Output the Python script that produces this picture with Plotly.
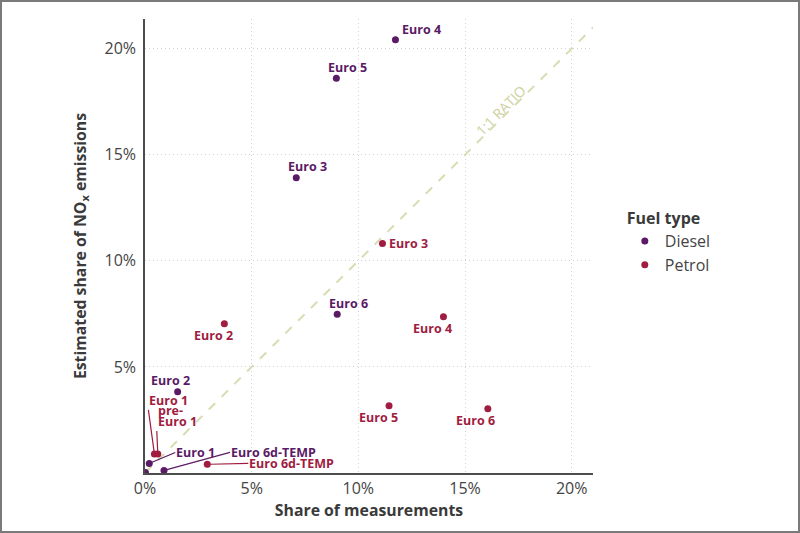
import plotly.graph_objects as go

# Data (percent)
diesel_labels = ['Euro 4', 'Euro 5', 'Euro 3', 'Euro 6', 'Euro 2', 'Euro 1', 'Euro 6d-TEMP', '']
diesel_x = [11.74, 8.97, 7.09, 9.01, 1.53, 0.20, 0.89, 0.02]
diesel_y = [20.42, 18.61, 13.92, 7.48, 3.83, 0.45, 0.12, 0.02]

petrol_labels = ['Euro 3', 'Euro 2', 'Euro 4', 'Euro 5', 'Euro 6', 'Euro 1', 'pre-<br>Euro 1', 'Euro 6d-TEMP']
petrol_x = [11.13, 3.72, 13.99, 11.44, 16.07, 0.44, 0.60, 2.92]
petrol_y = [10.82, 7.03, 7.37, 3.17, 3.03, 0.90, 0.90, 0.41]

tick_vals = [0, 5, 10, 15, 20]
tick_text = ['0%', '5%', '10%', '15%', '20%']
ratio_max = 21

DIESEL = '#5b1a66'
PETROL = '#a01c40'
FONT = 'Open Sans'
LABEL_SIZE = 12.5
LINE_GAP = 10.7  # tight line spacing for wrapped labels

# label placement: (xshift, yshift) for plain labels, or (ax, ay, xanchor, yanchor) for leader lines
plain_pos = {
    ('Diesel', 'Euro 4'): (26, 10),
    ('Diesel', 'Euro 5'): (11, 11),
    ('Diesel', 'Euro 3'): (11, 11),
    ('Diesel', 'Euro 6'): (11, 11),
    ('Diesel', 'Euro 2'): (-7, 11),
    ('Petrol', 'Euro 3'): (26, 0),
    ('Petrol', 'Euro 2'): (-11, -12),
    ('Petrol', 'Euro 4'): (-11, -12),
    ('Petrol', 'Euro 5'): (-11, -12),
    ('Petrol', 'Euro 6'): (-12, -12),
}
leader_pos = {
    ('Diesel', 'Euro 1'): (26, -11, 'left', 'middle'),
    ('Diesel', 'Euro 6d-TEMP'): (66, -18, 'left', 'middle'),
    ('Petrol', 'Euro 1'): (-6, -44, 'left', 'bottom'),
    ('Petrol', 'pre-<br>Euro 1'): (-1, -23, 'left', 'bottom'),
    ('Petrol', 'Euro 6d-TEMP'): (41, -1, 'left', 'middle'),
}

fig = go.Figure()

# 1:1 ratio line
fig.add_trace(go.Scatter(
    x=[0, ratio_max], y=[0, ratio_max], mode='lines',
    line=dict(color='#d9dcb2', width=2, dash='dash'),
    showlegend=False, hoverinfo='skip'
))

for name, xs, ys, color in [('Diesel', diesel_x, diesel_y, DIESEL),
                            ('Petrol', petrol_x, petrol_y, PETROL)]:
    fig.add_trace(go.Scatter(
        x=xs, y=ys, mode='markers', name=name,
        marker=dict(color=color, size=7)
    ))

annotations = []
for name, xs, ys, labels, color in [('Diesel', diesel_x, diesel_y, diesel_labels, DIESEL),
                                    ('Petrol', petrol_x, petrol_y, petrol_labels, PETROL)]:
    for x, y, lab in zip(xs, ys, labels):
        if not lab:
            continue
        key = (name, lab)
        font = dict(family=FONT, size=LABEL_SIZE, color=color, weight='bold')
        if key in leader_pos:
            ax, ay, xa, ya = leader_pos[key]
            lines = lab.split('<br>')
            # last line carries the leader line, earlier lines stacked above it
            annotations.append(dict(
                x=x, y=y, text=lines[-1], showarrow=True, ax=ax, ay=ay,
                xanchor=xa, yanchor=ya, align='left', arrowhead=0,
                arrowwidth=1.2, arrowcolor=color, standoff=3,
                font=font, borderpad=0
            ))
            for i, part in enumerate(reversed(lines[:-1]), start=1):
                annotations.append(dict(
                    x=x, y=y, text=part, showarrow=False,
                    xanchor=xa, yanchor=ya, borderpad=0,
                    xshift=ax, yshift=-ay + i * LINE_GAP, font=font
                ))
        else:
            xs_, ys_ = plain_pos[key]
            annotations.append(dict(
                x=x, y=y, text=lab, showarrow=False,
                xshift=xs_, yshift=ys_, font=font
            ))

annotations.append(dict(
    x=16.9, y=16.9, text='1:1 RATIO', showarrow=False, textangle=-45,
    xshift=-5, yshift=4, font=dict(family=FONT, size=14, color='#cdd1a0')
))

W, H = 800, 533
ml, mr, mt, mb = 145, 207, 19, 60
pw, ph = W - ml - mr, H - mt - mb

fig.update_layout(
    width=W, height=H,
    margin=dict(l=ml, r=mr, t=mt, b=mb),
    paper_bgcolor='white', plot_bgcolor='white',
    font=dict(family=FONT, color='#444'),
    annotations=annotations,
    legend=dict(
        title=dict(text='<b>Fuel type</b>', font=dict(size=16, color='#3a3a3a')),
        x=1.071, y=0.594, xanchor='left', yanchor='top',
        font=dict(size=16, color='#444')
    ),
    shapes=[dict(
        type='rect', xref='paper', yref='paper',
        x0=-(ml - 1) / pw, x1=1 + (mr - 1) / pw,
        y0=-(mb - 1) / ph, y1=1 + (mt - 1) / ph,
        line=dict(color='#7a7a7a', width=2), layer='above'
    )],
)

fig.update_xaxes(
    range=[0, 21], tickvals=tick_vals, ticktext=tick_text,
    showgrid=True, gridcolor='#d2d2d2', griddash='1px,3px', gridwidth=1,
    showline=True, linecolor='#4d4d4d', linewidth=1.5, zeroline=False,
    ticks='', tickfont=dict(size=16, color='#444'),
    title=dict(text='<b>Share of measurements</b>', font=dict(size=15.8, color='#3a3a3a'), standoff=4)
)
fig.update_yaxes(
    range=[0, 21.4], tickvals=tick_vals[1:], ticktext=tick_text[1:],
    showgrid=True, gridcolor='#d2d2d2', griddash='1px,3px', gridwidth=1,
    showline=True, linecolor='#4d4d4d', linewidth=1.5, zeroline=False,
    ticks='', tickfont=dict(size=16, color='#444'), ticklabelstandoff=4,
    title=dict(text='<b>Estimated share of NO<sub>x</sub> emissions</b>',
               font=dict(size=15.8, color='#3a3a3a'), standoff=14)
)

fig.write_html('out.html', config={'displayModeBar': False},
               post_script="document.body.style.margin='0';document.body.style.overflow='hidden';")
